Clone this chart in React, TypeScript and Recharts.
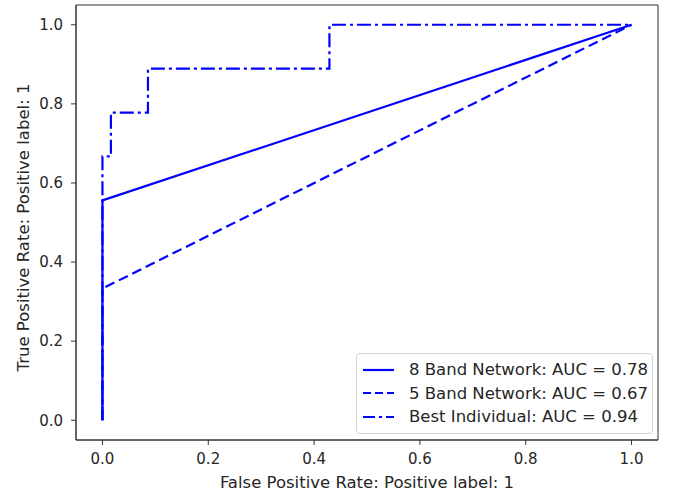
import { LineChart, Line, XAxis, YAxis, Legend, ReferenceArea } from 'recharts';

// ROC curve points (false positive rate, true positive rate)
const band8Fpr = [0, 0, 1];
const band8Tpr = [0, 0.556, 1];
const band5Fpr = [0, 0, 1];
const band5Tpr = [0, 0.333, 1];
const bestFpr = [0, 0, 0.016, 0.016, 0.086, 0.086, 0.429, 0.429, 1];
const bestTpr = [0, 0.667, 0.667, 0.778, 0.778, 0.889, 0.889, 1, 1];
const ticks = [0, 0.2, 0.4, 0.6, 0.8, 1.0];

const toPoints = (xs: number[], ys: number[]) => xs.map((x, i) => ({ x, y: ys[i] }));

const series = [
  { name: '8 Band Network: AUC = 0.78', data: toPoints(band8Fpr, band8Tpr), dash: undefined, legendDash: undefined },
  { name: '5 Band Network: AUC = 0.67', data: toPoints(band5Fpr, band5Tpr), dash: '10 5', legendDash: '8 4' },
  { name: 'Best Individual: AUC = 0.94', data: toPoints(bestFpr, bestTpr), dash: '14 4 3 4', legendDash: '12 4 3 4' },
];

const FONT = '"DejaVu Sans", sans-serif';
const TEXT = '#262626';
const BLUE = '#0000ff';

function LegendBox() {
  return (
    <div style={{ boxSizing: 'border-box', width: 297, border: '1px solid #d4d4d4', borderRadius: 4, background: '#fff', padding: '4px 0 4px 6px', fontFamily: FONT, fontSize: 16.5, color: TEXT }}>
      {series.map((s) => (
        <div key={s.name} style={{ display: 'flex', alignItems: 'center', height: 23.5 }}>
          <svg width={31} height={10} style={{ marginRight: 15, flexShrink: 0 }}>
            <line x1={0} y1={5} x2={31} y2={5} stroke={BLUE} strokeWidth={2.2} strokeDasharray={s.legendDash} />
          </svg>
          <span style={{ whiteSpace: 'nowrap' }}>{s.name}</span>
        </div>
      ))}
    </div>
  );
}

function YTitle({ viewBox }: any) {
  const cy = viewBox.y + viewBox.height / 2 + 5;
  return (
    <text x={23} y={cy} transform={`rotate(-90, 23, ${cy})`}
      textAnchor="middle" dominantBaseline="central" fontFamily={FONT} fontSize={16.5} fill={TEXT}>
      True Positive Rate: Positive label: 1
    </text>
  );
}

export default function App() {
  return (
    <div style={{ position: 'absolute', left: 0, top: 0, width: 678, height: 494, background: '#fff' }}>
      <LineChart width={678} height={494} margin={{ top: 5, right: 20, bottom: 0, left: 0 }}>
        <XAxis type="number" dataKey="x" domain={[-0.05, 1.05]} ticks={ticks} allowDataOverflow
          tickFormatter={(v: number) => v.toFixed(1)} height={54} tickSize={5} tickMargin={8}
          stroke="#333" tick={{ fill: TEXT, fontFamily: FONT, fontSize: 15 }}
          label={{ value: 'False Positive Rate: Positive label: 1', position: 'insideBottom', offset: 6, fill: TEXT, fontFamily: FONT, fontSize: 16.5 }} />
        <YAxis type="number" dataKey="y" domain={[-0.05, 1.05]} ticks={ticks} allowDataOverflow
          tickFormatter={(v: number) => v.toFixed(1)} width={76} tickSize={5} tickMargin={8}
          stroke="#333" tick={{ fill: TEXT, fontFamily: FONT, fontSize: 15 }}
          label={<YTitle />} />
        <ReferenceArea x1={-0.05} x2={1.05} y1={-0.05} y2={1.05} fill="none" stroke="#333" strokeWidth={1} ifOverflow="visible" />
        {series.map((s) => (
          <Line key={s.name} data={s.data} dataKey="y" name={s.name} type="linear" stroke={BLUE} strokeWidth={2.2}
            strokeDasharray={s.dash} dot={false} activeDot={false} isAnimationActive={false} />
        ))}
        <Legend layout="vertical" align="center" verticalAlign="middle" content={<LegendBox />}
          wrapperStyle={{ left: 356, top: 353, width: 297 }} />
      </LineChart>
    </div>
  );
}
